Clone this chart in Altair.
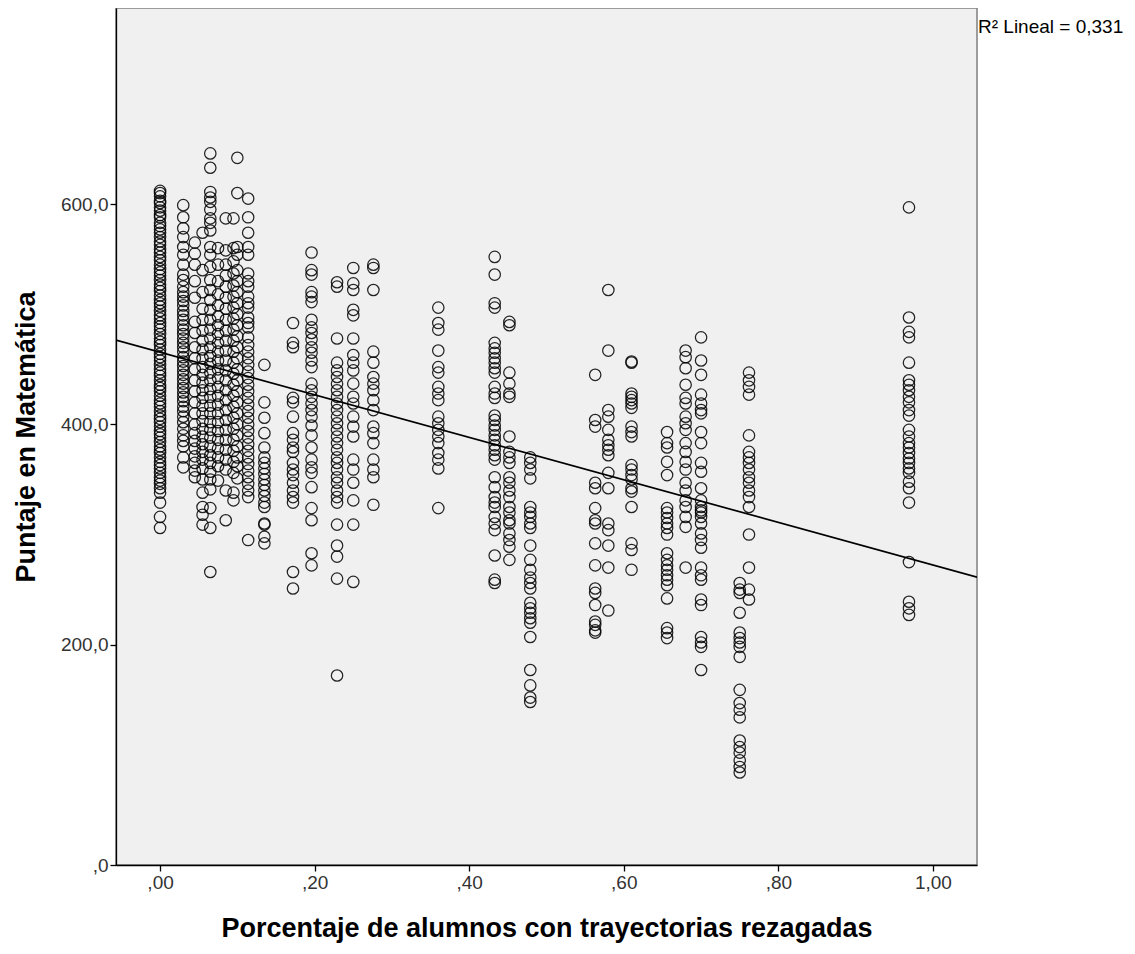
import altair as alt
import pandas as pd

# x positions of the point columns (share of students with lagging trajectories)
col_x = [0.000, 0.030, 0.045, 0.055, 0.065, 0.075, 0.085, 0.095, 0.100, 0.114,
         0.135, 0.172, 0.196, 0.229, 0.250, 0.276, 0.360, 0.433, 0.452, 0.479,
         0.563, 0.580, 0.610, 0.656, 0.680, 0.700, 0.750, 0.762, 0.969]

# math scores
y_000 = [612, 610, 607, 603, 601, 597, 594, 590, 588, 583, 580, 577, 574, 570, 566, 563, 559, 556,
         552, 549, 545, 541, 538, 535, 531, 527, 524, 521, 517, 513, 510, 507, 503, 499, 496, 492,
         489, 486, 482, 478, 475, 472, 468, 464, 461, 458, 454, 450, 447, 444, 440, 436, 433, 430,
         426, 422, 419, 416, 412, 408, 405, 402, 398, 394, 391, 388, 384, 380, 377, 374, 370, 366,
         363, 360, 356, 352, 349, 346, 342, 338, 329, 316, 306]
y_030 = [599, 588, 578, 570, 561, 554, 545, 536, 531, 525, 520, 516, 512, 508, 503, 499, 495, 490,
         486, 482, 478, 474, 470, 466, 461, 457, 453, 449, 445, 441, 437, 433, 429, 425, 421, 416,
         412, 407, 402, 396, 390, 385, 380, 370, 361]
y_045 = [565, 555, 545, 530, 515, 493, 483, 470, 460, 450, 440, 430, 420, 410, 400, 392, 385, 378,
         371, 365, 358, 352]
y_055 = [574, 540, 520, 505, 495, 485, 476, 468, 460, 452, 445, 438, 431, 424, 417, 410, 403, 396,
         389, 382, 375, 368, 360, 350, 338, 325, 318, 309]
y_065 = [646, 633, 611, 606, 602, 595, 587, 583, 576, 561, 554, 543, 531, 522, 513, 504, 495, 486,
         478, 470, 462, 455, 447, 440, 432, 425, 417, 410, 402, 395, 388, 380, 372, 365, 357, 350,
         341, 324, 306, 266]
y_075 = [560, 545, 530, 518, 508, 498, 490, 482, 474, 466, 458, 450, 442, 434, 426, 418, 410, 402,
         394, 386, 378, 370, 362, 349]
y_085 = [587, 558, 545, 535, 525, 515, 505, 495, 485, 476, 467, 458, 449, 440, 431, 422, 413, 404,
         395, 386, 377, 368, 359, 340, 313]
y_095 = [587, 560, 548, 537, 526, 516, 506, 496, 486, 476, 466, 456, 446, 436, 426, 416, 406, 396,
         386, 376, 366, 356, 338, 331]
y_100 = [642, 610, 561, 554, 540, 530, 520, 510, 500, 490, 480, 470, 460, 450, 440, 430, 420, 410,
         400, 390, 380, 370, 362, 351]
y_114 = [605, 588, 574, 561, 554, 537, 530, 525, 516, 510, 506, 497, 492, 488, 479, 472, 466, 460,
         454, 448, 442, 436, 430, 424, 418, 412, 406, 400, 394, 388, 382, 376, 370, 364, 358, 352,
         346, 340, 334, 295]
y_135 = [454, 420, 406, 392, 379, 370, 365, 360, 355, 350, 345, 340, 335, 329, 325, 310, 309, 298, 292]
y_172 = [492, 474, 470, 424, 420, 407, 392, 386, 379, 375, 365, 359, 354, 347, 340, 334, 329, 266, 251]
y_196 = [556, 540, 536, 520, 516, 511, 495, 488, 483, 477, 470, 465, 458, 452, 437, 431, 425, 419,
         413, 407, 399, 390, 379, 368, 361, 356, 343, 324, 313, 283, 272]
y_229 = [529, 525, 478, 456, 449, 443, 437, 431, 425, 419, 413, 407, 401, 395, 389, 383, 377, 370,
         365, 359, 352, 347, 340, 334, 329, 309, 290, 280, 260, 172]
y_250 = [542, 528, 522, 504, 499, 478, 463, 456, 449, 437, 425, 419, 407, 398, 389, 368, 359, 347,
         331, 309, 257]
y_276 = [545, 542, 522, 466, 456, 443, 437, 431, 422, 413, 398, 392, 383, 368, 359, 352, 327]
y_360 = [506, 492, 486, 467, 452, 447, 434, 428, 422, 407, 401, 395, 389, 383, 374, 368, 360, 324]
y_433 = [552, 536, 510, 506, 474, 469, 465, 460, 456, 451, 447, 434, 428, 424, 408, 404, 399, 395,
         390, 386, 381, 377, 372, 368, 352, 343, 334, 329, 325, 316, 310, 304, 281, 259, 256]
y_452 = [493, 490, 447, 437, 428, 425, 389, 375, 370, 365, 352, 347, 340, 334, 325, 320, 313, 310,
         301, 295, 289, 277]
y_479 = [370, 365, 359, 351, 325, 320, 316, 310, 306, 290, 277, 268, 261, 256, 251, 238, 233, 229,
         224, 220, 207, 177, 163, 152, 148]
y_563 = [445, 404, 398, 347, 342, 324, 313, 310, 292, 272, 251, 247, 236, 221, 218, 213, 211]
y_580 = [522, 467, 413, 407, 395, 386, 381, 377, 372, 356, 342, 310, 304, 290, 270, 231]
y_610 = [457, 456, 428, 425, 422, 419, 415, 398, 393, 389, 363, 359, 354, 350, 342, 339, 325, 292,
         286, 268]
y_656 = [393, 383, 379, 366, 354, 324, 320, 315, 310, 306, 300, 283, 277, 272, 268, 263, 259, 254,
         242, 215, 211, 206]
y_680 = [467, 461, 451, 436, 424, 419, 407, 401, 395, 383, 375, 366, 359, 347, 340, 331, 325, 316,
         307, 270]
y_700 = [479, 458, 445, 427, 419, 413, 410, 393, 383, 365, 357, 342, 331, 325, 322, 320, 316, 310,
         301, 295, 288, 270, 263, 259, 241, 236, 207, 202, 198, 177]
y_750 = [256, 250, 247, 229, 211, 206, 202, 198, 189, 159, 147, 141, 134, 113, 107, 102, 95, 89, 84]
y_762 = [447, 440, 434, 427, 390, 375, 370, 365, 359, 352, 347, 340, 334, 325, 300, 270, 250, 241]
y_969 = [597, 497, 484, 479, 456, 440, 436, 431, 425, 420, 413, 408, 395, 389, 383, 379, 374, 369,
         365, 360, 356, 348, 342, 329, 275, 239, 233, 227]

col_y = [y_000, y_030, y_045, y_055, y_065, y_075, y_085, y_095, y_100, y_114,
         y_135, y_172, y_196, y_229, y_250, y_276, y_360, y_433, y_452, y_479,
         y_563, y_580, y_610, y_656, y_680, y_700, y_750, y_762, y_969]

# linear fit
fit_intercept = 465.5
fit_slope = -193.1
r2_label = "R² Lineal = 0,331"

x_domain = [-0.057, 1.057]
y_domain = [0, 778]
x_ticks = [0.0, 0.2, 0.4, 0.6, 0.8, 1.0]
y_ticks = [0, 200, 400, 600]

rows = []
for xv, ys in zip(col_x, col_y):
    for yv in ys:
        rows.append({"x": xv, "y": yv})
pts = pd.DataFrame(rows)

fit = pd.DataFrame({"x": x_domain})
fit["y"] = fit_intercept + fit_slope * fit["x"]

W, H = 861, 857
FONT = "Liberation Sans"

xscale = alt.Scale(domain=x_domain, nice=False, zero=False)
yscale = alt.Scale(domain=y_domain, nice=False, zero=False)

x_axis = alt.Axis(
    values=x_ticks,
    labelExpr="datum.value < 1 ? ',' + substring(format(datum.value, '.2f'), 2) : replace(format(datum.value, '.2f'), '.', ',')",
    title="Porcentaje de alumnos con trayectorias rezagadas",
    titlePadding=23,
)
y_axis = alt.Axis(
    values=y_ticks,
    labelExpr="datum.value == 0 ? ',0' : format(datum.value, 'd') + ',0'",
    title="Puntaje en Matemática",
    titlePadding=20,
)

points = alt.Chart(pts).mark_point(
    shape="circle", filled=False, color="black", size=130, strokeWidth=1.25, opacity=0.85
).encode(
    x=alt.X("x:Q", scale=xscale, axis=x_axis),
    y=alt.Y("y:Q", scale=yscale, axis=y_axis),
)

line = alt.Chart(fit).mark_line(color="black", strokeWidth=1.7, clip=True).encode(
    x=alt.X("x:Q", scale=xscale),
    y=alt.Y("y:Q", scale=yscale),
)

r2 = alt.Chart(pd.DataFrame({"t": [r2_label]})).mark_text(
    align="left", baseline="middle", fontSize=19, font=FONT, color="black"
).encode(
    text="t:N",
    x=alt.value(W + 1),
    y=alt.value(19),
)

chart = alt.layer(points, line, r2).properties(
    width=W, height=H,
    autosize=alt.AutoSizeParams(type="none"),
    padding={"left": 108, "top": 0, "right": 150, "bottom": 80},
).configure(
    background="white"
).configure_view(
    fill="#F0F0F0", stroke="#7f7f7f", strokeWidth=1.5
).configure_axis(
    grid=False,
    domainColor="black", domainWidth=1.3,
    tickColor="black", tickSize=6, tickWidth=1.3,
    labelFont=FONT, labelFontSize=19, labelColor="#333333", labelPadding=2,
    titleFont=FONT, titleFontSize=27, titleFontWeight="bold", titleColor="black",
)

chart.save("out.html", embed_options={"renderer": "svg", "actions": False})
